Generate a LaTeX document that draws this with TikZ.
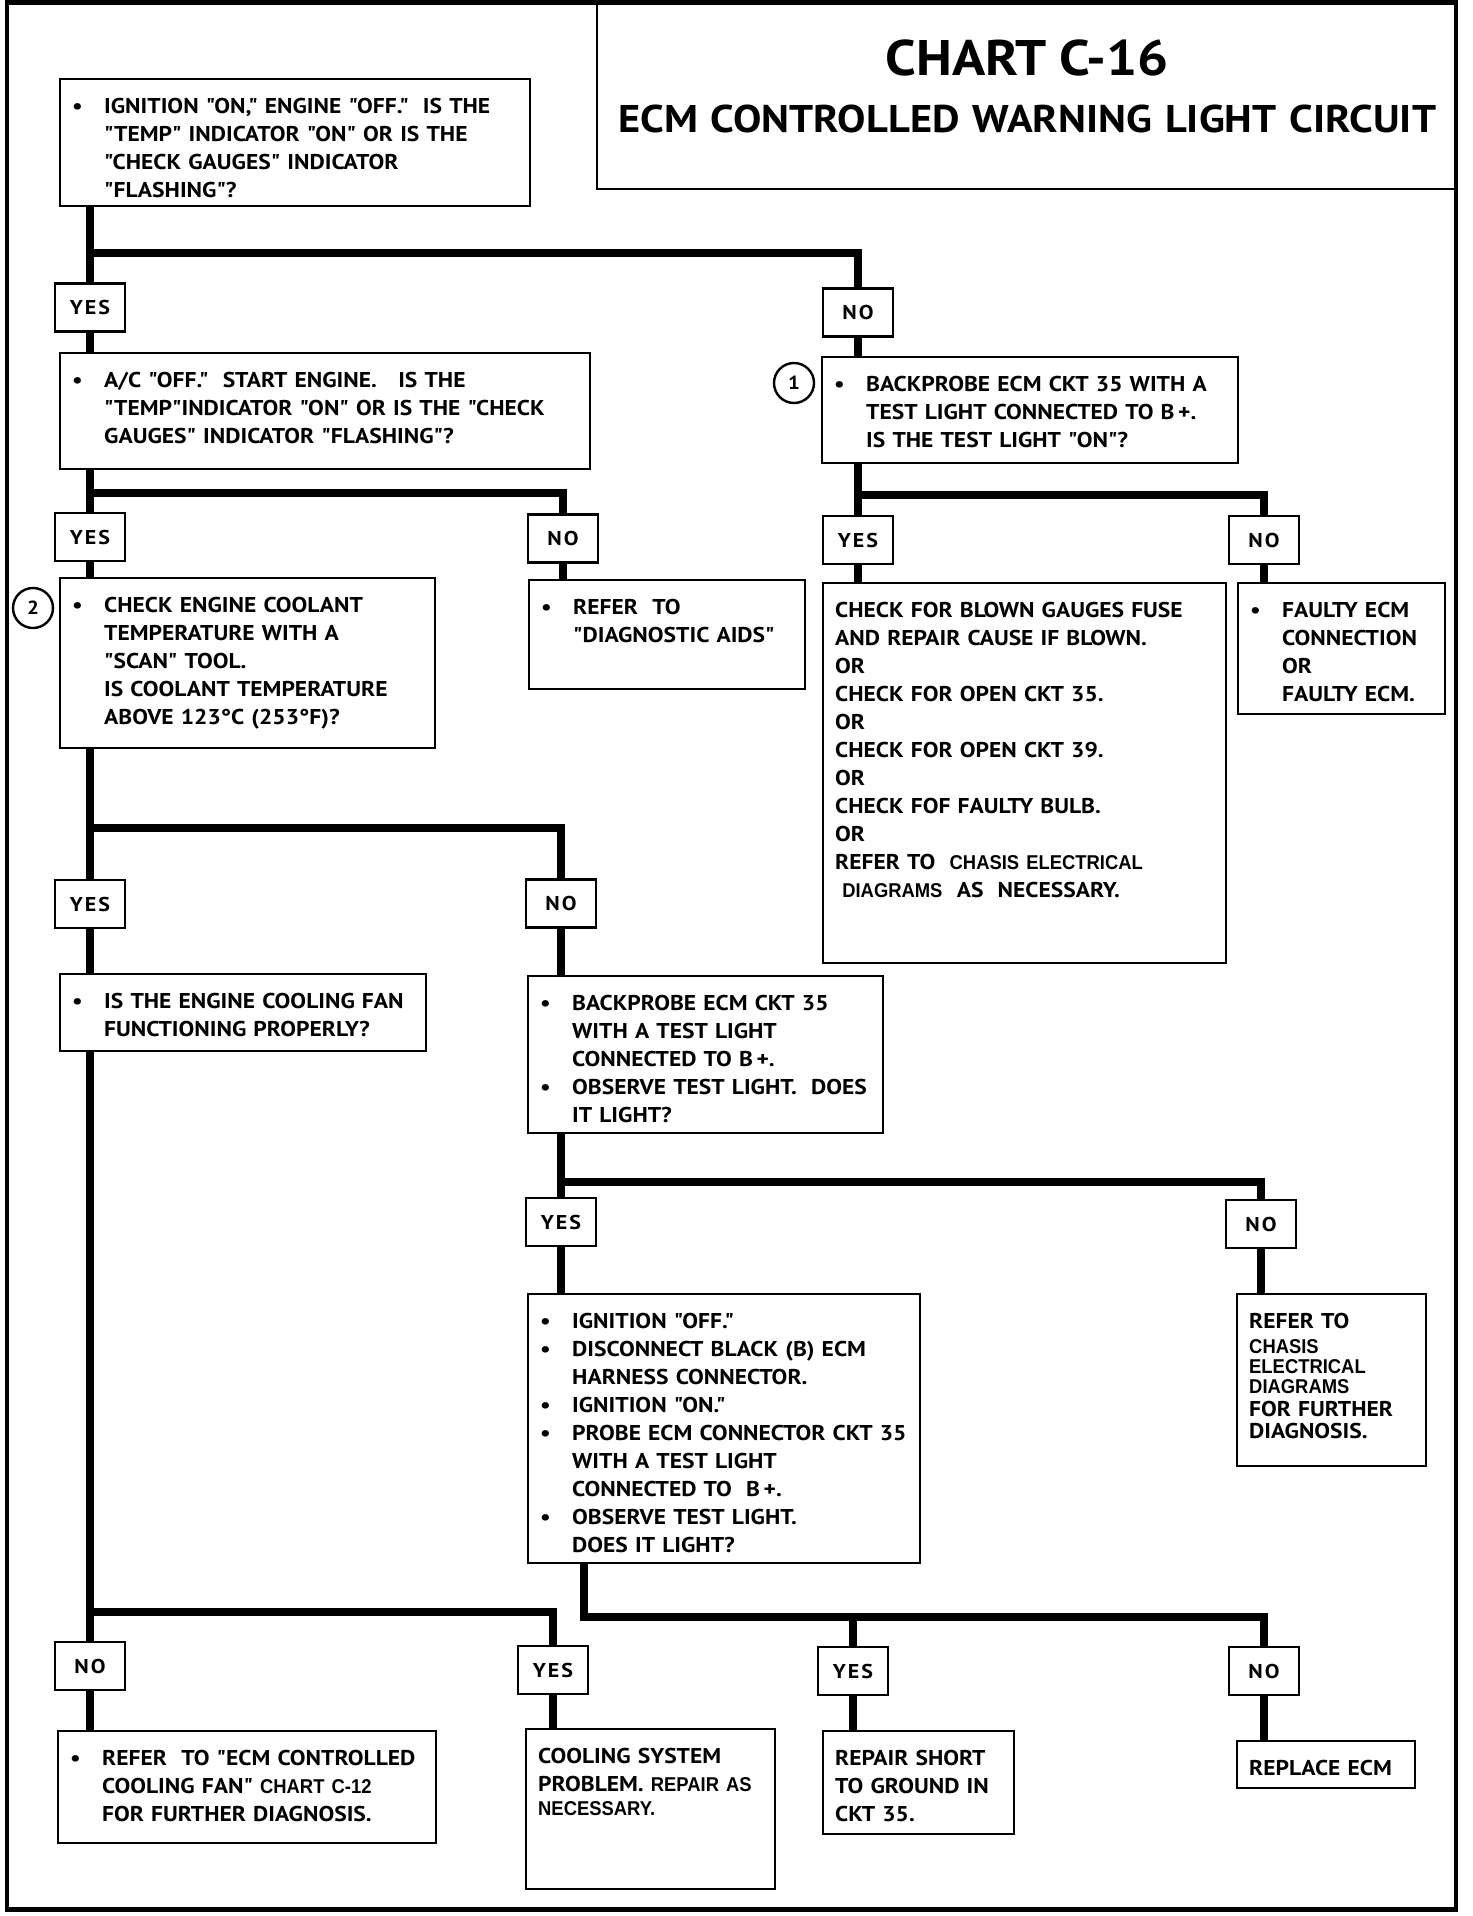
\documentclass[tikz,border=0pt]{standalone}
\usepackage{fontspec}
\setmainfont[Ligatures=TeXOff,FakeStretch=1.1]{PT Sans}
\newfontfamily\narrowsans[Ligatures=TeXOff,FakeStretch=0.92]{Liberation Sans}
\newcommand{\bulletlist}{\leftskip=16pt}
\newcommand{\bulletitem}{\leavevmode\llap{\makebox[16pt][l]{\textbullet}}}
\newcommand{\nar}[1]{{\narrowsans\fontsize{10}{14}\selectfont #1}}
\begin{document}
\begin{tikzpicture}[x=0.5pt,y=-0.5pt,
  box/.style={draw, line width=1.2pt, anchor=north west, align=left, inner xsep=6pt, inner ysep=4pt,
    text height=13pt, font=\bfseries\fontsize{10.7}{14}\selectfont},
  answer/.style={draw, line width=1.2pt, minimum width=35pt, minimum height=24pt, inner sep=0pt,
    font=\bfseries\fontsize{10}{11}\selectfont\addfontfeature{LetterSpace=10}},
  marker/.style={draw, circle, line width=1.2pt, minimum size=20pt, inner sep=0pt,
    font=\bfseries\fontsize{9.5}{11}\selectfont},
  wire/.style={line width=3.6pt}]
\useasboundingbox (0,0) rectangle (1472,1916);
\draw[line width=2.2pt] (7,2.5) rectangle (1456,1909.5);

% title
\node[draw, line width=1.2pt, anchor=north west, text width=430pt, align=center, inner sep=0pt,
  text height=35.75pt, text depth=56.75pt, font=\bfseries\fontsize{19.3}{28.5}\selectfont](title) at (596,3)
  {{\fontsize{25}{28.5}\selectfont CHART C-16}\\ ECM CONTROLLED WARNING LIGHT CIRCUIT};

% questions and actions
\node[box, text width=223pt, text depth=42.5pt](qa) at (59,78)
  {\bulletlist\bulletitem IGNITION "ON," ENGINE "OFF."\ \ IS THE\\ "TEMP" INDICATOR "ON" OR IS THE\\
   "CHECK GAUGES" INDICATOR\\ "FLASHING"?\par};
\node[box, text width=253pt, text depth=37pt](qb) at (59,352)
  {\bulletlist\bulletitem A/C "OFF."\ \ START ENGINE.\ \ \ IS THE\\ "TEMP"INDICATOR "ON" OR IS THE "CHECK\\
   GAUGES" INDICATOR "FLASHING"?\par};
\node[box, text width=196pt, text depth=32pt](qc) at (821,356)
  {\bulletlist\bulletitem BACKPROBE ECM CKT 35 WITH A\\ TEST LIGHT CONNECTED TO B\,+.\\ IS THE TEST LIGHT "ON"?\par};
\node[box, text width=175.5pt, text depth=64pt](qd) at (59,577)
  {\bulletlist\bulletitem CHECK ENGINE COOLANT\\ TEMPERATURE WITH A\\ "SCAN" TOOL.\\ IS COOLANT TEMPERATURE\\
   ABOVE 123°C (253°F)?\par};
\node[box, text width=126pt, text depth=33.5pt](qe) at (528,579)
  {\bulletlist\bulletitem REFER\ \ TO\\ "DIAGNOSTIC AIDS"\par};
\node[box, text width=189.5pt, text depth=169pt](qf) at (822,582)
  {CHECK FOR BLOWN GAUGES FUSE\\ AND REPAIR CAUSE IF BLOWN.\\ OR\\ CHECK FOR OPEN CKT 35.\\ OR\\
   CHECK FOR OPEN CKT 39.\\ OR\\ CHECK FOF FAULTY BULB.\\ OR\\ REFER TO\ \ \nar{CHASIS ELECTRICAL}\\
   \ \nar{DIAGRAMS}\ \ AS\ \ NECESSARY.};
\node[box, text width=91.5pt, text depth=44.5pt](qg) at (1237,582)
  {\bulletlist\bulletitem FAULTY ECM\\ CONNECTION\\ OR\\ FAULTY ECM.\par};
\node[box, text width=171pt, text depth=17.5pt](qh) at (59,973)
  {\bulletlist\bulletitem IS THE ENGINE COOLING FAN\\ FUNCTIONING PROPERLY?\par};
\node[box, text width=165.5pt, text depth=57.5pt](qi) at (527,975)
  {\bulletlist\bulletitem BACKPROBE ECM CKT 35\\ WITH A TEST LIGHT\\ CONNECTED TO B\,+.\\
   \bulletitem OBSERVE TEST LIGHT.\ \ DOES\\ IT LIGHT?\par};
\node[box, text width=184pt, text depth=113.5pt](qj) at (527,1293)
  {\bulletlist\bulletitem IGNITION "OFF."\\
   \bulletitem DISCONNECT BLACK (B) ECM\\ HARNESS CONNECTOR.\\
   \bulletitem IGNITION "ON."\\
   \bulletitem PROBE ECM CONNECTOR CKT 35\\ WITH A TEST LIGHT\\ CONNECTED TO\ \ B\,+.\\
   \bulletitem OBSERVE TEST LIGHT.\\ DOES IT LIGHT?\par};
\node[box, text width=82.5pt, text depth=65pt](qk) at (1236,1293)
  {REFER TO\\[-1.5pt] \nar{CHASIS}\\[-4pt] \nar{ELECTRICAL}\\[-4pt] \nar{DIAGRAMS}\\[-2.5pt]
   FOR FURTHER\\[-3pt] DIAGNOSIS.};
\node[box, text width=177pt, text depth=35pt](ql) at (57,1730)
  {\bulletlist\bulletitem REFER\ \ TO "ECM CONTROLLED\\ COOLING FAN" \nar{CHART C-12}\\ FOR FURTHER DIAGNOSIS.\par};
\node[box, text width=112.5pt, text depth=59pt](qm) at (525,1728)
  {COOLING SYSTEM\\ PROBLEM. \nar{REPAIR AS}\\[-2pt] \nar{NECESSARY.}};
\node[box, text width=83.5pt, text depth=30.5pt](qn) at (822,1730)
  {REPAIR SHORT\\ TO GROUND IN\\ CKT 35.};
\node[box, text width=77pt, text depth=2.5pt](qo) at (1236,1740) {REPLACE ECM};

\node[marker](c1) at (794,383) {1};
\node[marker](c2) at (33,608) {2};

% answers
\node[answer](y1) at (90,307.5) {YES};
\node[answer](n1) at (858,312.5) {NO};
\node[answer](y2) at (90,537) {YES};
\node[answer](n2) at (563,538.5) {NO};
\node[answer](y3) at (90,904) {YES};
\node[answer](n3) at (561,903.5) {NO};
\node[answer](y4) at (858,540) {YES};
\node[answer](n4) at (1264,540) {NO};
\node[answer](y5) at (561,1222) {YES};
\node[answer](n5) at (1261,1224) {NO};
\node[answer](n6) at (90,1666) {NO};
\node[answer](y6) at (553,1670) {YES};
\node[answer](y7) at (853,1671) {YES};
\node[answer](n7) at (1264,1671) {NO};

\coordinate (j1) at (90,253);
\coordinate (j2) at (90,493);
\coordinate (j3) at (90,828);
\coordinate (j4) at (858,495);
\coordinate (j5) at (561,1182);
\coordinate (j6) at (90,1612);
\coordinate (j7) at (584,1617);

\draw[wire] (qa.south -| y1) -- (y1.north);
\draw[wire] (j1) -| (n1.north);
\draw[wire] (y1.south) -- (qb.north -| y1);
\draw[wire] (n1.south) -- (qc.north -| n1);
\draw[wire] (qb.south -| y2) -- (y2.north);
\draw[wire] (j2) -| (n2.north);
\draw[wire] (y2.south) -- (qd.north -| y2);
\draw[wire] (n2.south) -- (qe.north -| n2);
\draw[wire] (qc.south -| y4) -- (y4.north);
\draw[wire] (j4) -| (n4.north);
\draw[wire] (y4.south) -- (qf.north -| y4);
\draw[wire] (n4.south) -- (qg.north -| n4);
\draw[wire] (qd.south -| y3) -- (y3.north);
\draw[wire] (j3) -| (n3.north);
\draw[wire] (y3.south) -- (qh.north -| y3);
\draw[wire] (n3.south) -- (qi.north -| n3);
\draw[wire] (qi.south -| y5) -- (y5.north);
\draw[wire] (j5) -| (n5.north);
\draw[wire] (y5.south) -- (qj.north -| y5);
\draw[wire] (n5.south) -- (qk.north -| n5);
\draw[wire] (qh.south -| n6) -- (n6.north);
\draw[wire] (j6) -| (y6.north);
\draw[wire] (n6.south) -- (ql.north -| n6);
\draw[wire] (y6.south) -- (qm.north -| y6);
\draw[wire] (qj.south -| j7) -- (j7) -| (n7.north);
\draw[wire] (j7 -| y7) -- (y7.north);
\draw[wire] (y7.south) -- (qn.north -| y7);
\draw[wire] (n7.south) -- (qo.north -| n7);
\end{tikzpicture}
\end{document}
